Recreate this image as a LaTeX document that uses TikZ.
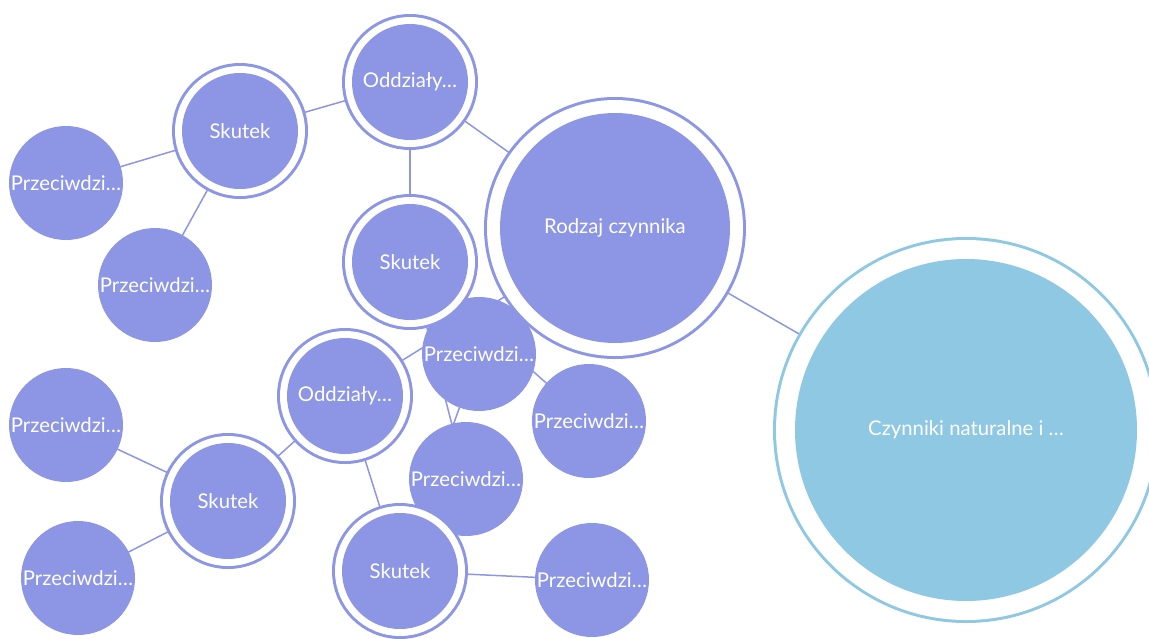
\documentclass[tikz,border=0pt]{standalone}
\usepackage{fontspec}
\setmainfont{Lato}
\usetikzlibrary{backgrounds}
\definecolor{pfill}{HTML}{8C96E4}
\definecolor{bfill}{HTML}{8FC8E3}
\definecolor{pline}{HTML}{8C96E4}
\tikzset{
  lbl/.style={text=white, font=\fontsize{20.3}{22}\selectfont},
  leaf/.style={circle, fill=pfill, minimum size=114pt, inner sep=0pt, lbl},
  ringed/.style={circle, fill=pfill, minimum size=116pt, inner sep=0pt, lbl,
    preaction={draw=pfill, line width=20pt}, preaction={draw=white, line width=14pt}},
  bigring/.style={circle, fill=pfill, minimum size=230pt, inner sep=0pt, lbl,
    preaction={draw=pfill, line width=32pt}, preaction={draw=white, line width=26pt}},
  rootring/.style={circle, fill=bfill, minimum size=342pt, inner sep=0pt, lbl,
    preaction={draw=bfill, line width=44pt}, preaction={draw=white, line width=38pt}},
  link/.style={draw=pline, line width=1.5pt}
}
\begin{document}
\begin{tikzpicture}[x=1pt,y=-1pt]
\useasboundingbox (0,0) rectangle (1149,638);
% leaves
\node[leaf] (p1) at (66,183) {Przeciwdzi…};
\node[leaf] (p2) at (155,285) {Przeciwdzi…};
\node[leaf] (p3) at (589,421) {Przeciwdzi…};
\node[leaf] (p4) at (466,479) {Przeciwdzi…};
\node[leaf] (p5) at (66,425) {Przeciwdzi…};
\node[leaf] (p6) at (78,578) {Przeciwdzi…};
\node[leaf] (p7) at (592,580) {Przeciwdzi…};
\node[leaf] (p8) at (479,354) {Przeciwdzi…};
% ringed
\node[ringed] (sk1) at (240,131) {Skutek};
\node[ringed] (sk2) at (410,262) {Skutek};
\node[ringed] (sk3) at (228,501) {Skutek};
\node[ringed] (sk4) at (400,571) {Skutek};
\node[ringed] (odd1) at (410,82) {Oddziały…};
\node[ringed] (odd2) at (345,396) {Oddziały…};
\node[bigring] (rodzaj) at (615,228) {Rodzaj czynnika};
\node[rootring] (root) at (966,430) {Czynniki naturalne i …};
\begin{pgfonlayer}{background}
\draw[link] (root.center) -- (rodzaj.center);
\draw[link] (rodzaj.center) -- (odd1.center);
\draw[link] (rodzaj.center) -- (odd2.center);
\draw[link] (odd1.center) -- (sk1.center);
\draw[link] (odd1.center) -- (sk2.center);
\draw[link] (odd2.center) -- (sk3.center);
\draw[link] (odd2.center) -- (sk4.center);
\draw[link] (sk1.center) -- (p1.center);
\draw[link] (sk1.center) -- (p2.center);
\draw[link] (sk2.center) -- (p3.center);
\draw[link] (sk2.center) -- (p4.center);
\draw[link] (sk3.center) -- (p5.center);
\draw[link] (sk3.center) -- (p6.center);
\draw[link] (sk4.center) -- (p7.center);
\draw[link] (sk4.center) -- (p8.center);
\end{pgfonlayer}
\end{tikzpicture}
\end{document}
